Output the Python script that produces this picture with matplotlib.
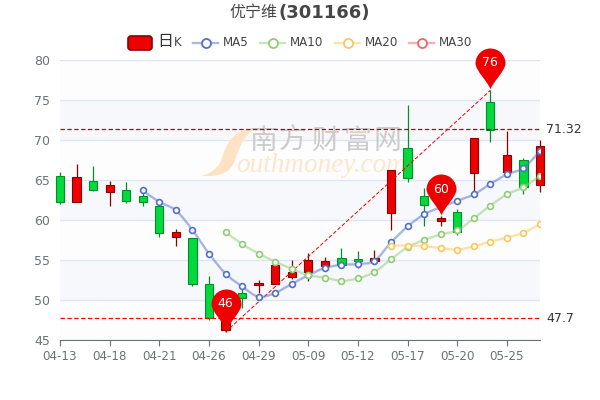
import matplotlib
matplotlib.use('Agg')
import matplotlib.pyplot as plt
from matplotlib.path import Path
from matplotlib.patches import PathPatch, FancyBboxPatch, Rectangle
from matplotlib.lines import Line2D
from matplotlib.transforms import Affine2D

dates = ['04-13','04-14','04-15','04-18','04-19','04-20','04-21','04-22','04-25','04-26',
         '04-27','04-28','04-29','05-05','05-06','05-09','05-10','05-11','05-12','05-13',
         '05-16','05-17','05-18','05-19','05-20','05-23','05-24','05-25','05-26','05-27']
opens = [65.5,62.2,64.9,63.5,63.8,63.0,61.8,57.9,57.8,52.0,
         46.3,50.9,51.9,52.0,52.9,53.5,54.2,55.2,55.1,54.9,
         60.9,69.0,63.0,59.9,61.0,65.9,74.8,66.0,67.5,64.4]
closes = [62.2,65.4,63.7,64.4,62.4,62.3,58.4,58.5,52.0,47.7,
          50.0,50.3,52.1,54.4,53.5,55.0,54.9,54.4,54.9,55.2,
          66.2,65.2,61.9,60.3,58.5,70.2,71.3,68.1,64.1,69.2]
lows = [62.0,62.2,63.6,61.7,62.1,61.7,57.9,56.8,51.8,47.5,
        46.0,49.0,50.9,52.0,52.6,52.4,54.0,54.4,54.0,54.9,
        58.8,64.7,59.2,59.3,58.1,63.1,69.7,66.0,63.2,63.5]
highs = [66.0,67.0,66.7,64.9,64.7,63.4,61.9,58.9,57.8,53.0,
         50.0,51.4,52.5,54.4,55.0,55.9,55.4,56.5,56.1,56.2,
         66.2,74.4,64.0,60.5,61.4,70.2,76.2,71.1,67.7,70.0]
ma5 = [None]*5 + [63.7,62.25,61.2,58.75,55.8,53.3,51.7,50.4,50.9,52.0,53.1,54.0,54.4,54.5,54.9,
                  57.2,59.2,60.7,61.6,62.4,63.2,64.5,65.7,66.5,68.6]
ma10 = [None]*10 + [58.5,57.0,55.8,54.8,53.9,53.1,52.8,52.4,52.7,53.5,
                    55.1,56.6,57.5,58.2,58.7,60.2,61.8,63.2,64.1,65.5]
ma20 = [None]*20 + [56.8,56.8,56.7,56.5,56.3,56.7,57.3,57.8,58.4,59.5]
max_line = 71.32
min_line = 47.7
pins = [(10,46.25,'46'),(23,60.6,'60'),(26,76.4,'76')]
yticks = [45,50,55,60,65,70,75,80]
xtick_idx = [0,3,6,9,12,15,18,21,24,27]

RED='#ee0000'; RED_D='#8a0000'; GREEN='#00da3c'; GREEN_D='#008f28'
GRAY='#6E7079'
CJK='Noto Sans CJK SC'

# pixels of the 600x400 picture, y going down
px = Affine2D().scale(1,-1).translate(0,400)

def smooth(ax,vals,color):
  pts = [(i,v) for i,v in enumerate(vals) if v is not None]
  verts = [pts[0]]; codes = [Path.MOVETO]
  for k in range(len(pts)-1):
    p0 = pts[max(k-1,0)]; p1 = pts[k]; p2 = pts[k+1]; p3 = pts[min(k+2,len(pts)-1)]
    c1 = (p1[0]+(p2[0]-p0[0])/6, p1[1]+(p2[1]-p0[1])/6)
    c2 = (p2[0]-(p3[0]-p1[0])/6, p2[1]-(p3[1]-p1[1])/6)
    verts += [c1,c2,p2]; codes += [Path.CURVE4]*3
  ax.add_patch(PathPatch(Path(verts,codes),fc='none',ec=color,lw=1.7,alpha=0.5,zorder=6))
  ax.plot([p[0] for p in pts],[p[1] for p in pts],ls='none',marker='o',ms=4.2,mfc='white',mec=color,mew=1.2,zorder=7)

fig = plt.figure(figsize=(6,4),dpi=100)
ax = fig.add_axes([60/600,60/400,480/600,280/400])
ax.set_xlim(0,29)
ax.set_ylim(45,80)

# bands and grid
for k in range(len(yticks)-1):
  ax.axhspan(yticks[k],yticks[k+1],color='#f6f8fc' if k%2==1 else '#fdfdfe',lw=0,zorder=0)
ax.set_yticks(yticks)
ax.set_xticks(xtick_idx)
ax.set_xticklabels([dates[i] for i in xtick_idx])
ax.grid(axis='y',color='#E0E6F1',lw=1,zorder=1)
ax.set_axisbelow(True)
for s in ['top','right','left']:
  ax.spines[s].set_visible(False)
ax.spines['bottom'].set_color(GRAY)
ax.tick_params(axis='y',length=0,labelsize=9,labelcolor=GRAY,pad=7)
ax.tick_params(axis='x',length=4,color=GRAY,labelsize=8.6,labelcolor=GRAY,pad=3)

# watermark
swoosh = Path([(259,128),(232,128),(226,145),(222,158),(219,168),(210,174),(201,176),
               (222,177),(231,172),(235,160),(240,146),(245,131),(259,128)],
              [Path.MOVETO]+[Path.CURVE4]*12)
ax.add_patch(PathPatch(swoosh,fc='#fde3c4',ec='none',transform=px,zorder=2,clip_on=False))
for x0,ch in zip([263,293,325,358,387],'南方财富网'):
  ax.text(x0,141,ch,transform=px,family=CJK,fontsize=20,fontweight='medium',color='#cccccc',ha='center',va='center',zorder=2)
ax.text(321,166,'outhmoney.com',transform=px,family='Liberation Serif',style='italic',fontsize=19.5,color='#fee6cc',ha='center',va='center',zorder=2)

# candles
for i in range(len(dates)):
  up = closes[i]>=opens[i]
  fc = RED if up else GREEN
  ec = RED_D if up else GREEN_D
  ax.plot([i,i],[lows[i],highs[i]],color=ec,lw=0.9,zorder=3,clip_on=False,solid_capstyle='butt')
  ax.add_patch(Rectangle((i-0.25,min(opens[i],closes[i])),0.5,abs(closes[i]-opens[i]),fc=fc,ec=ec,lw=0.8,zorder=4,clip_on=False))

# mark lines
ax.plot([0,29],[max_line,max_line],color='#c40000',lw=0.9,ls=(0,(3.5,2)),zorder=5)
ax.plot([0,29],[min_line,min_line],color='#ff0000',lw=0.9,ls=(0,(3.5,2)),zorder=5)
ax.plot([10,26],[46,76.2],color='#ee0000',lw=0.7,ls=(0,(4,2)),zorder=5)
ax.text(546,129.5,'71.32',transform=px,fontsize=9,color='#333333',va='center',zorder=9)
ax.text(546,318.5,'47.7',transform=px,fontsize=9,color='#333333',va='center',zorder=9)

smooth(ax,ma5,'#5470c6')
smooth(ax,ma10,'#91cc75')
smooth(ax,ma20,'#fac858')

# pins, tip at the origin of the marker
R=15.0; H=26.0
c = 0.5523*R
pin = Path([(0,0),(-2,7),(-R,H-7),(-R,H),(-R,H+c),(-c,H+R),(0,H+R),(c,H+R),(R,H+c),(R,H),(R,H-7),(2,7),(0,0)],
           [Path.MOVETO]+[Path.CURVE4]*12)
pin_size = 2*(H+R)*72/100
for i,v,t in pins:
  ax.scatter([i],[v],marker=pin,s=pin_size**2,color='#ee0000',lw=0,zorder=8,clip_on=False)
  ax.annotate(t,(i,v),xytext=(0,H*0.72),textcoords='offset points',ha='center',va='center',color='white',fontsize=9,zorder=9)

# title
fig.text(277/600,1-13/400,'优宁维',family=CJK,fontsize=11.5,color='#464646',ha='right',va='center')
fig.text(278/600,1-13/400,'(301166)',fontsize=13,fontweight='bold',color='#464646',ha='left',va='center')

# legend
ax.add_patch(FancyBboxPatch((128,36),24,14,boxstyle='round,pad=0,rounding_size=3',fc=RED,ec=RED_D,lw=1.2,transform=px,clip_on=False,mutation_aspect=1,zorder=9))
ax.text(157,41.5,'日',transform=px,family=CJK,fontsize=11.5,color='#333333',va='center',zorder=9)
ax.text(174,43,'K',transform=px,fontsize=8.6,color='#444444',va='center',zorder=9)
for x0,col,name in [(193,'#5470c6','MA5'),(260,'#91cc75','MA10'),(335,'#fac858','MA20'),(409,'#ee6666','MA30')]:
  ax.add_line(Line2D([x0,x0+25],[43,43],color=col,alpha=0.5,lw=1.7,transform=px,clip_on=False,zorder=9))
  ax.add_line(Line2D([x0+12.5],[43],ls='none',marker='o',ms=6.5,mfc='white',mec=col,mew=1.3,transform=px,clip_on=False,zorder=9))
  ax.text(x0+30,43,name,transform=px,fontsize=8.6,color='#444444',va='center',zorder=9)

fig.savefig('out.png',dpi=100)
